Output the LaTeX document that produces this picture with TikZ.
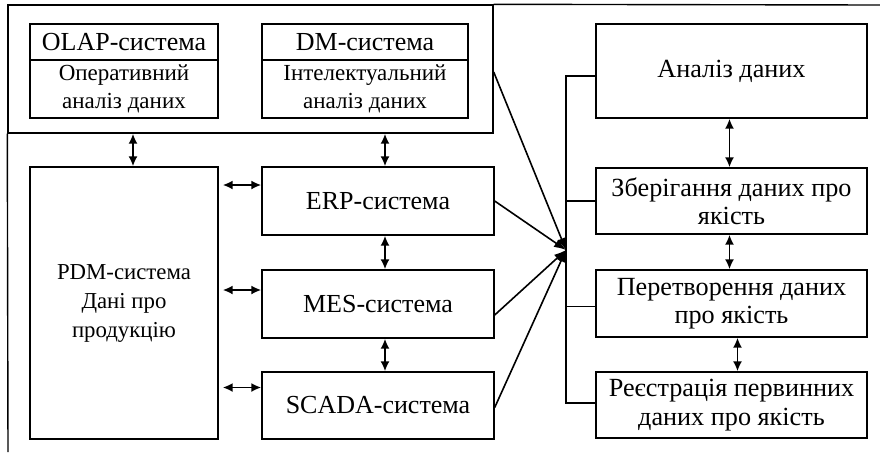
\documentclass[tikz,border=0pt]{standalone}
\usepackage{fontspec}
\setmainfont{Liberation Serif}
\usetikzlibrary{arrows.meta}

\tikzset{
  box/.style={draw, line width=0.7pt, inner sep=1pt, align=center,
    font=\fontsize{13}{14.5}\selectfont},
  smallbox/.style={box, font=\fontsize{11.5}{13.8}\selectfont},
  bigbox/.style={box, font=\fontsize{13.1}{14.2}\selectfont},
  link/.style={<->, >={Latex[length=5pt,width=4.5pt]}, line width=0.9pt},
  feed/.style={-{Latex[length=6pt,width=4.5pt]}, line width=0.8pt},
}

\begin{document}
\begin{tikzpicture}[x=0.5pt, y=-0.5pt]
    \useasboundingbox (0,0) rectangle (880,452);

    % Frame
    \node[draw, line width=0.7pt, inner sep=0pt, minimum width=242.5pt, minimum height=64pt] (top) at (250.5,69) {};
    \coordinate (fbl) at (8,452);
    \coordinate (ftr) at (880,5);
    \draw[line width=0.7pt] (top.south west) -- (fbl);
    \draw[line width=0.7pt] (top.north east) -- (ftr);

    % Analysis systems
    \node[box, minimum width=94pt, minimum height=18pt] (olapt) at (124,42) {OLAP-система};
    \node[smallbox, minimum width=94pt, minimum height=29pt] (olapb) at (124,89) {Оперативний\\аналіз даних};
    \node[box, minimum width=103pt, minimum height=18pt] (dmt) at (365,42) {DM-система};
    \node[smallbox, minimum width=103pt, minimum height=29pt] (dmb) at (365,89) {Інтелектуальний\\аналіз даних};

    % Enterprise systems
    \node[smallbox, font=\fontsize{11.4}{14.5}\selectfont, minimum width=94pt, minimum height=136pt] (pdm) at (124,303) {PDM-система\\Дані про\\продукцію};
    \node[box, minimum width=116pt, minimum height=34pt] (erp) at (378,201) {ERP-система};
    \node[box, minimum width=116pt, minimum height=34pt] (mes) at (378,304) {MES-система};
    \node[box, minimum width=116pt, minimum height=33.5pt] (scada) at (378,405.5) {SCADA-система};

    % Quality data
    \node[bigbox, minimum width=135.5pt, minimum height=47pt] (an) at (731.5,71) {Аналіз даних};
    \node[bigbox, minimum width=135.5pt, minimum height=33pt] (st) at (731.5,201) {Зберігання даних про\\якість};
    \node[bigbox, minimum width=135.5pt, minimum height=33.5pt] (tr) at (731.5,303.5) {Перетворення даних\\про якість};
    \node[bigbox, minimum width=135.5pt, minimum height=33pt] (rg) at (731.5,405) {Реєстрація первинних\\даних про якість};
    \coordinate (hub) at (566,250);

    % Links
    \draw[link] ([xshift=4.5pt]pdm.north |- top.south) -- ([xshift=4.5pt]pdm.north);
    \draw[link] ([xshift=3.5pt]erp.north |- top.south) -- ([xshift=3.5pt]erp.north);
    \draw[link] ([xshift=3.5pt]erp.south) -- ([xshift=3.5pt]mes.north);
    \draw[link] ([xshift=3.5pt]mes.south) -- ([xshift=3.5pt]scada.north);
    \draw[link, shorten <=2pt] ([yshift=8pt]erp.west -| pdm.east) -- ([yshift=8pt]erp.west);
    \draw[link, shorten <=2pt] ([yshift=7pt]mes.west -| pdm.east) -- ([yshift=7pt]mes.west);
    \draw[link, shorten <=2pt] ([yshift=9pt]scada.west -| pdm.east) -- ([yshift=9pt]scada.west);
    \draw[link] ([xshift=-1pt]an.south) -- ([xshift=-1pt]st.north);
    \draw[link] ([xshift=-1pt]st.south) -- ([xshift=-1pt]tr.north);
    \draw[link] ([xshift=3pt]tr.south) -- ([xshift=3pt]rg.north);

    % Bus
    \draw[line width=0.7pt] ([yshift=-2.5pt]an.west) -- ([yshift=-2.5pt]an.west -| hub) |- ([yshift=1pt]rg.west);
    \draw[line width=0.7pt] (st.west) -- (st.west -| hub);
    \draw[line width=0.7pt] ([yshift=-1.5pt]tr.west) -- ([yshift=-1.5pt]tr.west -| hub);

    % Feeds
    \draw[feed] ([yshift=-1.5pt]top.east) -- (hub);
    \draw[feed] (erp.east) -- (hub);
    \draw[feed] ([yshift=-5.5pt]mes.east) -- (hub);
    \draw[feed] ([yshift=-1pt]scada.east) -- (hub);
\end{tikzpicture}
\end{document}
